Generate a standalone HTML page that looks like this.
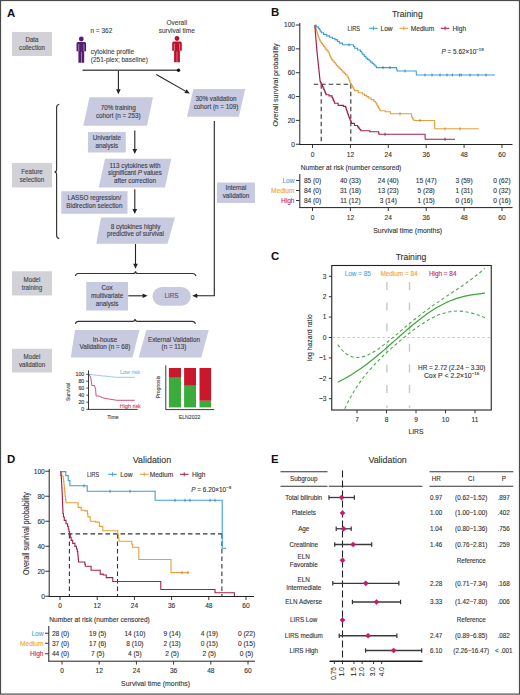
<!DOCTYPE html>
<html><head><meta charset="utf-8"><style>
html,body{margin:0;padding:0;background:#fff;}
svg{display:block;font-family:"Liberation Sans", sans-serif;}
</style></head><body>
<svg width="520" height="695" viewBox="0 0 520 695">
<rect x="0" y="0" width="520" height="695" fill="#fff"/>
<text x="7.00" y="16.70" font-size="11.4" fill="#111" font-weight="bold">A</text>
<rect x="12.00" y="32.00" width="40.00" height="24.00" fill="#d1d1d7"/>
<text x="32.00" y="42.40" font-size="6.76" fill="#444" stroke="#444" stroke-width="0.12" text-anchor="middle" textLength="13.1" lengthAdjust="spacingAndGlyphs">Data</text>
<text x="32.00" y="50.30" font-size="6.76" fill="#444" stroke="#444" stroke-width="0.12" text-anchor="middle" textLength="25.85" lengthAdjust="spacingAndGlyphs">collection</text>
<rect x="12.00" y="163.00" width="40.00" height="24.50" fill="#d1d1d7"/>
<text x="32.00" y="173.65" font-size="6.76" fill="#444" stroke="#444" stroke-width="0.12" text-anchor="middle" textLength="21.37" lengthAdjust="spacingAndGlyphs">Feature</text>
<text x="32.00" y="181.55" font-size="6.76" fill="#444" stroke="#444" stroke-width="0.12" text-anchor="middle" textLength="24.47" lengthAdjust="spacingAndGlyphs">selection</text>
<rect x="12.00" y="271.25" width="40.00" height="24.25" fill="#d1d1d7"/>
<text x="32.00" y="281.77" font-size="6.76" fill="#444" stroke="#444" stroke-width="0.12" text-anchor="middle" textLength="16.89" lengthAdjust="spacingAndGlyphs">Model</text>
<text x="32.00" y="289.68" font-size="6.76" fill="#444" stroke="#444" stroke-width="0.12" text-anchor="middle" textLength="20.34" lengthAdjust="spacingAndGlyphs">training</text>
<rect x="12.00" y="348.75" width="40.00" height="23.75" fill="#d1d1d7"/>
<text x="32.00" y="359.02" font-size="6.76" fill="#444" stroke="#444" stroke-width="0.12" text-anchor="middle" textLength="16.89" lengthAdjust="spacingAndGlyphs">Model</text>
<text x="32.00" y="366.93" font-size="6.76" fill="#444" stroke="#444" stroke-width="0.12" text-anchor="middle" textLength="26.2" lengthAdjust="spacingAndGlyphs">validation</text>
<circle cx="81.30" cy="39.00" r="2.4" fill="#52206f"/>
<path d="M76.50,43.40 Q76.50,41.90 78.00,41.90 L84.60,41.90 Q86.10,41.90 86.10,43.40 L86.10,51.20 L84.20,51.20 L84.20,62.70 L81.50,62.70 L81.50,51.90 L81.10,51.90 L81.10,62.70 L78.40,62.70 L78.40,51.20 L76.50,51.20 Z" fill="#52206f"/>
<line x1="78.70" y1="44.10" x2="78.70" y2="51.20" stroke="#fff" stroke-width="0.45"/>
<line x1="83.90" y1="44.10" x2="83.90" y2="51.20" stroke="#fff" stroke-width="0.45"/>
<circle cx="177.00" cy="38.50" r="2.4" fill="#bc102d"/>
<path d="M172.20,42.90 Q172.20,41.40 173.70,41.40 L180.30,41.40 Q181.80,41.40 181.80,42.90 L181.80,50.70 L179.90,50.70 L179.90,62.20 L177.20,62.20 L177.20,51.40 L176.80,51.40 L176.80,62.20 L174.10,62.20 L174.10,50.70 L172.20,50.70 Z" fill="#bc102d"/>
<line x1="174.40" y1="43.60" x2="174.40" y2="50.70" stroke="#fff" stroke-width="0.45"/>
<line x1="179.60" y1="43.60" x2="179.60" y2="50.70" stroke="#fff" stroke-width="0.45"/>
<text x="90.40" y="33.00" font-size="7.09" fill="#444" stroke="#444" stroke-width="0.12" textLength="21.87" lengthAdjust="spacingAndGlyphs">n = 362</text>
<text x="90.80" y="54.30" font-size="7.09" fill="#444" stroke="#444" stroke-width="0.12" textLength="43.36" lengthAdjust="spacingAndGlyphs">cytokine profile</text>
<text x="90.80" y="62.00" font-size="7.09" fill="#444" stroke="#444" stroke-width="0.12" textLength="57.09" lengthAdjust="spacingAndGlyphs">(251-plex; baseline)</text>
<text x="176.80" y="25.00" font-size="7.09" fill="#444" stroke="#444" stroke-width="0.12" text-anchor="middle" textLength="20.59" lengthAdjust="spacingAndGlyphs">Overall</text>
<text x="176.80" y="33.10" font-size="7.09" fill="#444" stroke="#444" stroke-width="0.12" text-anchor="middle" textLength="36.12" lengthAdjust="spacingAndGlyphs">survival time</text>
<line x1="82.50" y1="70.20" x2="178.50" y2="70.20" stroke="#555" stroke-width="1.5"/>
<circle cx="178.5" cy="70.2" r="1.7" fill="#111"/>
<line x1="118.40" y1="70.80" x2="118.40" y2="89.80" stroke="#222" stroke-width="1.1"/>
<polygon points="118.40,94.30 116.10,89.30 120.70,89.30" fill="#222" stroke="none" stroke-width="1"/>
<line x1="156.30" y1="74.50" x2="185.89" y2="91.37" stroke="#222" stroke-width="1.1"/>
<polygon points="189.80,93.60 184.32,93.12 186.60,89.13" fill="#222" stroke="none" stroke-width="1"/>
<polygon points="89.50,97.30 153.00,97.30 147.00,125.80 83.30,125.80" fill="#c8cae0" stroke="none" stroke-width="1"/>
<text x="118.20" y="110.40" font-size="6.87" fill="#3c3c46" stroke="#3c3c46" stroke-width="0.12" text-anchor="middle" textLength="35.02" lengthAdjust="spacingAndGlyphs">70% training</text>
<text x="118.20" y="118.00" font-size="6.87" fill="#3c3c46" stroke="#3c3c46" stroke-width="0.12" text-anchor="middle" textLength="44.65" lengthAdjust="spacingAndGlyphs">cohort (n = 253)</text>
<polygon points="193.40,88.90 245.20,88.90 238.90,116.80 187.00,116.80" fill="#c8cae0" stroke="none" stroke-width="1"/>
<text x="216.00" y="101.00" font-size="6.87" fill="#3c3c46" stroke="#3c3c46" stroke-width="0.12" text-anchor="middle" textLength="40.98" lengthAdjust="spacingAndGlyphs">30% validation</text>
<text x="216.00" y="108.60" font-size="6.87" fill="#3c3c46" stroke="#3c3c46" stroke-width="0.12" text-anchor="middle" textLength="44.65" lengthAdjust="spacingAndGlyphs">cohort (n = 109)</text>
<polygon points="105.00,158.75 171.25,158.75 165.00,187.50 98.75,187.50" fill="#c8cae0" stroke="none" stroke-width="1"/>
<text x="135.00" y="167.70" font-size="6.87" fill="#3c3c46" stroke="#3c3c46" stroke-width="0.12" text-anchor="middle" textLength="51.01" lengthAdjust="spacingAndGlyphs">113 cytokines with</text>
<text x="135.00" y="175.30" font-size="6.3" fill="#3c3c46" stroke="#3c3c46" stroke-width="0.12" text-anchor="middle">significant <tspan font-style="italic">P</tspan> values</text>
<text x="135.00" y="182.90" font-size="6.87" fill="#3c3c46" stroke="#3c3c46" stroke-width="0.12" text-anchor="middle" textLength="42.02" lengthAdjust="spacingAndGlyphs">after correction</text>
<polygon points="101.00,217.50 175.00,217.50 167.50,243.75 96.25,243.75" fill="#c8cae0" stroke="none" stroke-width="1"/>
<text x="135.50" y="228.50" font-size="6.87" fill="#3c3c46" stroke="#3c3c46" stroke-width="0.12" text-anchor="middle" textLength="49.73" lengthAdjust="spacingAndGlyphs">8 cytokines highly</text>
<text x="135.50" y="236.10" font-size="6.87" fill="#3c3c46" stroke="#3c3c46" stroke-width="0.12" text-anchor="middle" textLength="57.07" lengthAdjust="spacingAndGlyphs">predictive of survival</text>
<polygon points="75.00,330.00 139.50,330.00 132.50,357.50 70.75,357.50" fill="#c8cae0" stroke="none" stroke-width="1"/>
<text x="105.00" y="341.70" font-size="6.87" fill="#3c3c46" stroke="#3c3c46" stroke-width="0.12" text-anchor="middle" textLength="24.52" lengthAdjust="spacingAndGlyphs">In-house</text>
<text x="105.00" y="349.30" font-size="6.87" fill="#3c3c46" stroke="#3c3c46" stroke-width="0.12" text-anchor="middle" textLength="50.84" lengthAdjust="spacingAndGlyphs">Validation (n = 68)</text>
<polygon points="146.25,330.00 208.75,330.00 201.25,357.50 138.75,357.50" fill="#c8cae0" stroke="none" stroke-width="1"/>
<text x="174.00" y="341.70" font-size="6.87" fill="#3c3c46" stroke="#3c3c46" stroke-width="0.12" text-anchor="middle" textLength="52.07" lengthAdjust="spacingAndGlyphs">External Validation</text>
<text x="174.00" y="349.30" font-size="6.87" fill="#3c3c46" stroke="#3c3c46" stroke-width="0.12" text-anchor="middle" textLength="24.92" lengthAdjust="spacingAndGlyphs">(n = 113)</text>
<rect x="88.00" y="132.00" width="37.75" height="20.50" fill="#c8cae0"/>
<text x="106.88" y="140.40" font-size="6.87" fill="#3c3c46" stroke="#3c3c46" stroke-width="0.12" text-anchor="middle" textLength="28.36" lengthAdjust="spacingAndGlyphs">Univariate</text>
<text x="106.88" y="148.20" font-size="6.87" fill="#3c3c46" stroke="#3c3c46" stroke-width="0.12" text-anchor="middle" textLength="22.76" lengthAdjust="spacingAndGlyphs">analysis</text>
<rect x="61.25" y="191.25" width="66.25" height="22.50" fill="#c8cae0"/>
<text x="94.38" y="200.20" font-size="6.87" fill="#3c3c46" stroke="#3c3c46" stroke-width="0.12" text-anchor="middle" textLength="53.93" lengthAdjust="spacingAndGlyphs">LASSO regression/</text>
<text x="94.38" y="208.00" font-size="6.87" fill="#3c3c46" stroke="#3c3c46" stroke-width="0.12" text-anchor="middle" textLength="56.03" lengthAdjust="spacingAndGlyphs">Bidirection selection</text>
<rect x="217.00" y="182.50" width="38.00" height="20.50" fill="#c8cae0"/>
<text x="236.00" y="190.40" font-size="6.87" fill="#3c3c46" stroke="#3c3c46" stroke-width="0.12" text-anchor="middle" textLength="21.01" lengthAdjust="spacingAndGlyphs">Internal</text>
<text x="236.00" y="198.20" font-size="6.87" fill="#3c3c46" stroke="#3c3c46" stroke-width="0.12" text-anchor="middle" textLength="26.62" lengthAdjust="spacingAndGlyphs">validation</text>
<rect x="86.25" y="282.00" width="41.75" height="28.50" fill="#c8cae0"/>
<text x="107.12" y="290.20" font-size="6.87" fill="#3c3c46" stroke="#3c3c46" stroke-width="0.12" text-anchor="middle" textLength="11.2" lengthAdjust="spacingAndGlyphs">Cox</text>
<text x="107.12" y="298.00" font-size="6.87" fill="#3c3c46" stroke="#3c3c46" stroke-width="0.12" text-anchor="middle" textLength="32.21" lengthAdjust="spacingAndGlyphs">multivariate</text>
<text x="107.12" y="305.80" font-size="6.87" fill="#3c3c46" stroke="#3c3c46" stroke-width="0.12" text-anchor="middle" textLength="22.76" lengthAdjust="spacingAndGlyphs">analysis</text>
<rect x="152.5" y="287" width="38.25" height="18.75" rx="9.4" fill="#c8cae0"/>
<text x="171.50" y="298.30" font-size="6.87" fill="#4a5680" stroke="#4a5680" stroke-width="0.12" text-anchor="middle" textLength="14.01" lengthAdjust="spacingAndGlyphs">LIRS</text>
<line x1="134.80" y1="130.50" x2="134.80" y2="149.40" stroke="#222" stroke-width="1.1"/>
<polygon points="134.80,153.90 132.50,148.90 137.10,148.90" fill="#222" stroke="none" stroke-width="1"/>
<line x1="134.80" y1="189.30" x2="134.80" y2="209.40" stroke="#222" stroke-width="1.1"/>
<polygon points="134.80,213.90 132.50,208.90 137.10,208.90" fill="#222" stroke="none" stroke-width="1"/>
<line x1="135.50" y1="244.00" x2="135.50" y2="264.30" stroke="#222" stroke-width="1.1"/>
<polygon points="135.50,268.80 133.20,263.80 137.80,263.80" fill="#222" stroke="none" stroke-width="1"/>
<line x1="128.30" y1="295.80" x2="143.10" y2="295.80" stroke="#222" stroke-width="1.1"/>
<polygon points="147.60,295.80 142.60,298.10 142.60,293.50" fill="#222" stroke="none" stroke-width="1"/>
<path d="M214.3,121 L214.3,295.8 L197,295.8" stroke="#222" stroke-width="1.1" fill="none"/>
<line x1="198.00" y1="295.80" x2="196.70" y2="295.80" stroke="#222" stroke-width="1.1"/>
<polygon points="192.20,295.80 197.20,293.50 197.20,298.10" fill="#222" stroke="none" stroke-width="1"/>
<path d="M59.3,104.2 Q56.6,104.6 56.6,107.5 L56.6,169.6 Q56.6,172 54.4,172 Q56.6,172 56.6,174.4 L56.6,235.3 Q56.6,238.3 59.3,238.6" stroke="#333" stroke-width="1.15" fill="none"/>
<path d="M75.4,276 Q75.8,273.5 78.5,273.5 L133,273.5 Q135.5,273.5 135.5,271.2 Q135.5,273.5 138,273.5 L192.5,273.5 Q195.2,273.5 196,276" stroke="#333" stroke-width="1.15" fill="none"/>
<path d="M75.4,323.8 Q75.8,321.3 78.5,321.3 L132.5,321.3 Q135,321.3 135,319 Q135,321.3 137.5,321.3 L192,321.3 Q194.7,321.3 195.5,323.8" stroke="#333" stroke-width="1.15" fill="none"/>
<line x1="88.50" y1="370.40" x2="88.50" y2="409.80" stroke="#222" stroke-width="0.9"/>
<line x1="88.50" y1="409.40" x2="137.70" y2="409.40" stroke="#222" stroke-width="0.9"/>
<line x1="86.30" y1="374.30" x2="88.50" y2="374.30" stroke="#222" stroke-width="0.8"/>
<text x="84.30" y="376.20" font-size="5.78" fill="#333" stroke="#333" stroke-width="0.12" text-anchor="end" textLength="8.84" lengthAdjust="spacingAndGlyphs">100</text>
<line x1="86.30" y1="381.20" x2="88.50" y2="381.20" stroke="#222" stroke-width="0.8"/>
<text x="84.30" y="383.10" font-size="5.78" fill="#333" stroke="#333" stroke-width="0.12" text-anchor="end" textLength="5.9" lengthAdjust="spacingAndGlyphs">80</text>
<line x1="86.30" y1="388.10" x2="88.50" y2="388.10" stroke="#222" stroke-width="0.8"/>
<text x="84.30" y="390.00" font-size="5.78" fill="#333" stroke="#333" stroke-width="0.12" text-anchor="end" textLength="5.9" lengthAdjust="spacingAndGlyphs">60</text>
<line x1="86.30" y1="395.20" x2="88.50" y2="395.20" stroke="#222" stroke-width="0.8"/>
<text x="84.30" y="397.10" font-size="5.78" fill="#333" stroke="#333" stroke-width="0.12" text-anchor="end" textLength="5.9" lengthAdjust="spacingAndGlyphs">40</text>
<line x1="86.30" y1="402.20" x2="88.50" y2="402.20" stroke="#222" stroke-width="0.8"/>
<text x="84.30" y="404.10" font-size="5.78" fill="#333" stroke="#333" stroke-width="0.12" text-anchor="end" textLength="5.9" lengthAdjust="spacingAndGlyphs">20</text>
<line x1="86.30" y1="409.30" x2="88.50" y2="409.30" stroke="#222" stroke-width="0.8"/>
<text x="84.30" y="411.20" font-size="5.78" fill="#333" stroke="#333" stroke-width="0.12" text-anchor="end" textLength="2.95" lengthAdjust="spacingAndGlyphs">0</text>
<text x="0.00" y="0.00" font-size="5.45" fill="#444" stroke="#444" stroke-width="0.12" text-anchor="middle" textLength="17.78" lengthAdjust="spacingAndGlyphs" transform="translate(70,392) rotate(-90)">Survival</text>
<text x="113.00" y="419.20" font-size="5.78" fill="#444" stroke="#444" stroke-width="0.12" text-anchor="middle" textLength="11.58" lengthAdjust="spacingAndGlyphs">Time</text>
<path d="M89,374.3 C95,375 100,375.8 104,376 C110,376.6 114,377.2 116.7,377.3 L134.7,377.3" stroke="#86c6e2" stroke-width="0.9" fill="none"/>
<text x="130.00" y="374.00" font-size="5.89" fill="#7cc0de" stroke="#7cc0de" stroke-width="0.12" text-anchor="middle" textLength="19.8" lengthAdjust="spacingAndGlyphs">Low risk</text>
<path d="M89.2,374.3 L90.8,378 L91.9,385.5 L94.5,385.5 L95.6,389.2 L96.1,396 L98.8,396 L101,397 L104,398.2 L110,399.2 L116.7,400.3 L134.7,400.3" stroke="#c8406a" stroke-width="0.9" fill="none"/>
<text x="130.30" y="407.80" font-size="5.89" fill="#c8406a" stroke="#c8406a" stroke-width="0.12" text-anchor="middle" textLength="21.0" lengthAdjust="spacingAndGlyphs">High risk</text>
<line x1="165.80" y1="365.40" x2="165.80" y2="409.80" stroke="#222" stroke-width="0.9"/>
<line x1="165.80" y1="409.60" x2="214.20" y2="409.60" stroke="#222" stroke-width="0.9"/>
<rect x="168.90" y="368.00" width="12.10" height="9.80" fill="#c9182b"/>
<rect x="168.90" y="377.80" width="12.10" height="29.60" fill="#3bab3b"/>
<rect x="184.10" y="368.00" width="11.90" height="17.80" fill="#c9182b"/>
<rect x="184.10" y="385.80" width="11.90" height="21.60" fill="#3bab3b"/>
<rect x="199.50" y="368.00" width="11.60" height="32.80" fill="#c9182b"/>
<rect x="199.50" y="400.80" width="11.60" height="6.60" fill="#3bab3b"/>
<text x="0.00" y="0.00" font-size="5.56" fill="#444" stroke="#444" stroke-width="0.12" text-anchor="middle" textLength="22.68" lengthAdjust="spacingAndGlyphs" transform="translate(160,387) rotate(-90)">Prognosis</text>
<text x="189.60" y="419.20" font-size="5.67" fill="#444" stroke="#444" stroke-width="0.12" text-anchor="middle" textLength="21.68" lengthAdjust="spacingAndGlyphs">ELN2022</text>
<text x="271.00" y="15.80" font-size="11.4" fill="#111" font-weight="bold">B</text>
<text x="407.30" y="16.60" font-size="9.37" fill="#333" stroke="#333" stroke-width="0.12" text-anchor="middle" textLength="30.75" lengthAdjust="spacingAndGlyphs">Training</text>
<line x1="299.80" y1="23.00" x2="299.80" y2="145.00" stroke="#222" stroke-width="1"/>
<line x1="299.30" y1="144.50" x2="512.50" y2="144.50" stroke="#222" stroke-width="1"/>
<line x1="295.80" y1="25.00" x2="299.80" y2="25.00" stroke="#222" stroke-width="0.9"/>
<text x="295.00" y="27.30" font-size="7.19" fill="#333" stroke="#333" stroke-width="0.12" text-anchor="end" textLength="11.01" lengthAdjust="spacingAndGlyphs">100</text>
<line x1="295.80" y1="48.85" x2="299.80" y2="48.85" stroke="#222" stroke-width="0.9"/>
<text x="295.00" y="51.15" font-size="7.19" fill="#333" stroke="#333" stroke-width="0.12" text-anchor="end" textLength="7.34" lengthAdjust="spacingAndGlyphs">80</text>
<line x1="295.80" y1="72.70" x2="299.80" y2="72.70" stroke="#222" stroke-width="0.9"/>
<text x="295.00" y="75.00" font-size="7.19" fill="#333" stroke="#333" stroke-width="0.12" text-anchor="end" textLength="7.34" lengthAdjust="spacingAndGlyphs">60</text>
<line x1="295.80" y1="96.55" x2="299.80" y2="96.55" stroke="#222" stroke-width="0.9"/>
<text x="295.00" y="98.85" font-size="7.19" fill="#333" stroke="#333" stroke-width="0.12" text-anchor="end" textLength="7.34" lengthAdjust="spacingAndGlyphs">40</text>
<line x1="295.80" y1="120.40" x2="299.80" y2="120.40" stroke="#222" stroke-width="0.9"/>
<text x="295.00" y="122.70" font-size="7.19" fill="#333" stroke="#333" stroke-width="0.12" text-anchor="end" textLength="7.34" lengthAdjust="spacingAndGlyphs">20</text>
<line x1="295.80" y1="144.25" x2="299.80" y2="144.25" stroke="#222" stroke-width="0.9"/>
<text x="295.00" y="146.55" font-size="7.19" fill="#333" stroke="#333" stroke-width="0.12" text-anchor="end" textLength="3.67" lengthAdjust="spacingAndGlyphs">0</text>
<line x1="312.50" y1="144.50" x2="312.50" y2="148.00" stroke="#222" stroke-width="0.9"/>
<line x1="350.40" y1="144.50" x2="350.40" y2="148.00" stroke="#222" stroke-width="0.9"/>
<line x1="388.29" y1="144.50" x2="388.29" y2="148.00" stroke="#222" stroke-width="0.9"/>
<line x1="426.19" y1="144.50" x2="426.19" y2="148.00" stroke="#222" stroke-width="0.9"/>
<line x1="464.08" y1="144.50" x2="464.08" y2="148.00" stroke="#222" stroke-width="0.9"/>
<line x1="501.98" y1="144.50" x2="501.98" y2="148.00" stroke="#222" stroke-width="0.9"/>
<text x="312.50" y="156.60" font-size="7.19" fill="#333" stroke="#333" stroke-width="0.12" text-anchor="middle" textLength="3.67" lengthAdjust="spacingAndGlyphs">0</text>
<text x="350.40" y="156.60" font-size="7.19" fill="#333" stroke="#333" stroke-width="0.12" text-anchor="middle" textLength="7.34" lengthAdjust="spacingAndGlyphs">12</text>
<text x="388.29" y="156.60" font-size="7.19" fill="#333" stroke="#333" stroke-width="0.12" text-anchor="middle" textLength="7.34" lengthAdjust="spacingAndGlyphs">24</text>
<text x="426.19" y="156.60" font-size="7.19" fill="#333" stroke="#333" stroke-width="0.12" text-anchor="middle" textLength="7.34" lengthAdjust="spacingAndGlyphs">36</text>
<text x="464.08" y="156.60" font-size="7.19" fill="#333" stroke="#333" stroke-width="0.12" text-anchor="middle" textLength="7.34" lengthAdjust="spacingAndGlyphs">48</text>
<text x="501.98" y="156.60" font-size="7.19" fill="#333" stroke="#333" stroke-width="0.12" text-anchor="middle" textLength="7.34" lengthAdjust="spacingAndGlyphs">60</text>
<text x="0.00" y="0.00" font-size="8.07" fill="#333" stroke="#333" stroke-width="0.12" text-anchor="middle" textLength="83" lengthAdjust="spacingAndGlyphs" transform="translate(277.6,85) rotate(-90)">Overall survival probability</text>
<line x1="313.70" y1="84.20" x2="350.80" y2="84.20" stroke="#333" stroke-width="1.1" stroke-dasharray="4.5,3"/>
<line x1="321.20" y1="84.20" x2="321.20" y2="144.20" stroke="#333" stroke-width="1.1" stroke-dasharray="4.5,3"/>
<line x1="350.80" y1="84.20" x2="350.80" y2="144.20" stroke="#333" stroke-width="1.1" stroke-dasharray="4.5,3"/>
<path d="M314.80,25.30 H316.30 V26.90 H317.80 H318.30 V28.35 H319.30 V29.80 H320.30 V31.25 H321.30 V32.70 H321.80 H323.55 V34.40 H325.30 H326.75 V35.85 H329.65 V37.30 H331.10 H332.40 V38.45 H335.00 V39.60 H336.30 H337.30 V41.35 H339.30 V43.10 H340.30 H342.60 V44.80 H344.90 L353.00,44.80 H353.57 V46.55 H354.73 V48.30 H355.30 H357.60 V50.00 H359.90 H360.48 V51.53 H361.65 V53.07 H362.82 V54.60 H363.40 H364.25 V56.35 H365.95 V58.10 H366.80 H367.57 V59.42 H369.12 V60.75 H370.68 V62.08 H372.23 V63.40 H373.00 H373.70 V64.80 H375.10 V66.20 H376.50 V67.60 H377.20 L396.30,67.60 H396.55 V69.30 H397.05 V71.00 H397.30 L416.20,71.00 L416.40,75.00 L495.00,75.00" stroke="#3c9fd8" stroke-width="1.1" fill="none" stroke-linejoin="miter"/>
<path d="M314.80,25.30 H315.04 V26.78 H315.52 V28.26 H316.00 V29.74 H316.48 V31.22 H316.96 V32.70 H317.20 H317.43 V34.08 H317.89 V35.46 H318.35 V36.84 H318.81 V38.22 H319.27 V39.60 H319.50 H319.94 V40.90 H320.81 V42.20 H321.69 V43.50 H322.56 V44.80 H323.00 H323.58 V46.33 H324.75 V47.87 H325.92 V49.40 H326.50 H327.07 V50.85 H328.23 V52.30 H328.80 H329.09 V53.75 H329.66 V55.20 H330.24 V56.65 H330.81 V58.10 H331.10 H331.69 V59.58 H332.87 V61.06 H334.05 V62.54 H335.23 V64.02 H336.41 V65.50 H337.00 H337.66 V66.83 H338.99 V68.15 H340.31 V69.47 H341.64 V70.80 H342.30 H342.96 V72.10 H344.29 V73.40 H345.61 V74.70 H346.94 V76.00 H347.60 H347.92 V77.50 H348.56 V79.00 H349.20 V80.50 H349.84 V82.00 H350.48 V83.50 H350.80 H351.22 V84.92 H352.06 V86.34 H352.90 V87.76 H353.74 V89.18 H354.58 V90.60 H355.00 H358.15 V92.70 H361.30 H362.36 V94.03 H364.49 V95.35 H366.61 V96.67 H368.74 V98.00 H369.80 H371.12 V99.60 H373.78 V101.20 H375.10 H375.48 V102.56 H376.24 V103.91 H376.99 V105.27 H377.75 V106.63 H378.51 V107.99 H379.26 V109.34 H380.02 V110.70 H380.40 H385.15 V111.70 H389.90 H390.45 V113.80 H391.00 L411.20,113.80 H411.33 V115.03 H411.60 V116.27 H411.87 V117.50 H412.00 H412.62 V119.00 H413.88 V120.50 H414.50 L434.50,120.50 L434.70,128.75 L478.80,128.75" stroke="#e4a03c" stroke-width="1.1" fill="none" stroke-linejoin="miter"/>
<path d="M314.80,25.30 H314.86 V26.69 H314.97 V28.08 H315.09 V29.47 H315.21 V30.86 H315.32 V32.25 H315.44 V33.64 H315.55 V35.03 H315.67 V36.42 H315.78 V37.81 H315.90 V39.19 H316.02 V40.58 H316.13 V41.97 H316.25 V43.36 H316.36 V44.75 H316.48 V46.14 H316.59 V47.53 H316.71 V48.92 H316.83 V50.31 H316.94 V51.70 H317.00 H317.07 V53.11 H317.22 V54.52 H317.37 V55.93 H317.52 V57.34 H317.66 V58.75 H317.81 V60.16 H317.96 V61.57 H318.11 V62.98 H318.25 V64.39 H318.40 V65.80 H318.55 V67.20 H318.70 V68.61 H318.85 V70.02 H318.99 V71.43 H319.14 V72.84 H319.29 V74.25 H319.44 V75.66 H319.58 V77.07 H319.73 V78.48 H319.88 V79.89 H320.03 V81.30 H320.10 H320.45 V82.63 H321.15 V83.97 H321.85 V85.30 H322.20 H322.50 V86.66 H323.10 V88.01 H323.70 V89.37 H324.30 V90.73 H324.90 V92.09 H325.50 V93.44 H326.10 V94.80 H326.40 H329.05 V95.90 H331.70 H332.02 V97.38 H332.66 V98.86 H333.30 V100.34 H333.94 V101.82 H334.58 V103.30 H334.90 H338.10 V105.40 H341.30 H343.40 V106.40 H345.50 H345.73 V107.77 H346.19 V109.14 H346.64 V110.51 H347.10 V111.89 H347.56 V113.26 H348.01 V114.63 H348.47 V116.00 H348.70 H349.01 V117.48 H349.63 V118.96 H350.25 V120.44 H350.87 V121.92 H351.49 V123.40 H351.80 H354.45 V125.50 H357.10 H357.62 V126.83 H358.68 V128.15 H359.73 V129.48 H360.78 V130.80 H361.30 H369.80 V131.80 H378.30 H378.55 V133.03 H379.05 V134.25 H379.30 L425.00,134.25 L425.20,139.25 L455.00,139.25" stroke="#a3204f" stroke-width="1.1" fill="none" stroke-linejoin="miter"/>
<line x1="425.00" y1="73.50" x2="425.00" y2="76.50" stroke="#2a6f9e" stroke-width="0.8"/>
<line x1="432.00" y1="73.50" x2="432.00" y2="76.50" stroke="#2a6f9e" stroke-width="0.8"/>
<line x1="440.00" y1="73.50" x2="440.00" y2="76.50" stroke="#2a6f9e" stroke-width="0.8"/>
<line x1="447.00" y1="73.50" x2="447.00" y2="76.50" stroke="#2a6f9e" stroke-width="0.8"/>
<line x1="452.30" y1="73.50" x2="452.30" y2="76.50" stroke="#2a6f9e" stroke-width="0.8"/>
<line x1="459.40" y1="73.50" x2="459.40" y2="76.50" stroke="#2a6f9e" stroke-width="0.8"/>
<line x1="461.20" y1="73.50" x2="461.20" y2="76.50" stroke="#2a6f9e" stroke-width="0.8"/>
<line x1="470.00" y1="73.50" x2="470.00" y2="76.50" stroke="#2a6f9e" stroke-width="0.8"/>
<line x1="478.00" y1="73.50" x2="478.00" y2="76.50" stroke="#2a6f9e" stroke-width="0.8"/>
<line x1="486.00" y1="73.50" x2="486.00" y2="76.50" stroke="#2a6f9e" stroke-width="0.8"/>
<line x1="405.00" y1="69.50" x2="405.00" y2="72.50" stroke="#2a6f9e" stroke-width="0.8"/>
<line x1="349.00" y1="43.30" x2="349.00" y2="46.30" stroke="#2a6f9e" stroke-width="0.8"/>
<line x1="383.00" y1="66.10" x2="383.00" y2="69.10" stroke="#2a6f9e" stroke-width="0.8"/>
<line x1="390.00" y1="66.10" x2="390.00" y2="69.10" stroke="#2a6f9e" stroke-width="0.8"/>
<line x1="400.00" y1="112.30" x2="400.00" y2="115.30" stroke="#b07a2a" stroke-width="0.8"/>
<line x1="420.00" y1="119.00" x2="420.00" y2="122.00" stroke="#b07a2a" stroke-width="0.8"/>
<line x1="445.00" y1="127.25" x2="445.00" y2="130.25" stroke="#b07a2a" stroke-width="0.8"/>
<line x1="460.00" y1="127.25" x2="460.00" y2="130.25" stroke="#b07a2a" stroke-width="0.8"/>
<line x1="385.00" y1="132.75" x2="385.00" y2="135.75" stroke="#701535" stroke-width="0.8"/>
<line x1="445.00" y1="137.75" x2="445.00" y2="140.75" stroke="#701535" stroke-width="0.8"/>
<text x="347.50" y="30.60" font-size="7.19" fill="#333" stroke="#333" stroke-width="0.12" textLength="12.5" lengthAdjust="spacingAndGlyphs">LIRS</text>
<line x1="369.20" y1="28.30" x2="377.70" y2="28.30" stroke="#3c9fd8" stroke-width="1.1"/>
<line x1="373.45" y1="26.30" x2="373.45" y2="30.30" stroke="#3c9fd8" stroke-width="0.9"/>
<text x="380.50" y="30.60" font-size="7.19" fill="#333" stroke="#333" stroke-width="0.12" textLength="12.11" lengthAdjust="spacingAndGlyphs">Low</text>
<line x1="399.50" y1="28.30" x2="408.00" y2="28.30" stroke="#e4a03c" stroke-width="1.1"/>
<line x1="403.75" y1="26.30" x2="403.75" y2="30.30" stroke="#e4a03c" stroke-width="0.9"/>
<text x="410.75" y="30.60" font-size="7.19" fill="#333" stroke="#333" stroke-width="0.12" textLength="23.47" lengthAdjust="spacingAndGlyphs">Medium</text>
<line x1="440.80" y1="28.30" x2="449.30" y2="28.30" stroke="#a3204f" stroke-width="1.1"/>
<line x1="445.05" y1="26.30" x2="445.05" y2="30.30" stroke="#a3204f" stroke-width="0.9"/>
<text x="452.50" y="30.60" font-size="7.19" fill="#333" stroke="#333" stroke-width="0.12" textLength="13.57" lengthAdjust="spacingAndGlyphs">High</text>
<text x="441.50" y="54.20" font-size="6.4" fill="#333" stroke="#333" stroke-width="0.12"><tspan font-style="italic">P</tspan> = 5.62×10<tspan font-size="4.3" dy="-3">−19</tspan></text>
<text x="300.80" y="169.80" font-size="7.19" fill="#333" stroke="#333" stroke-width="0.12" textLength="100.51" lengthAdjust="spacingAndGlyphs">Number at risk (number censored)</text>
<line x1="299.80" y1="174.00" x2="299.80" y2="207.80" stroke="#222" stroke-width="1"/>
<line x1="299.30" y1="207.60" x2="512.50" y2="207.60" stroke="#222" stroke-width="1"/>
<line x1="296.00" y1="180.50" x2="299.80" y2="180.50" stroke="#222" stroke-width="0.9"/>
<text x="294.50" y="182.80" font-size="7.19" fill="#4aaad6" stroke="#4aaad6" stroke-width="0.12" text-anchor="end" textLength="12.11" lengthAdjust="spacingAndGlyphs">Low</text>
<text x="312.50" y="182.80" font-size="7.19" fill="#333" stroke="#333" stroke-width="0.12" text-anchor="middle" textLength="17.24" lengthAdjust="spacingAndGlyphs">85 (0)</text>
<text x="350.40" y="182.80" font-size="7.19" fill="#333" stroke="#333" stroke-width="0.12" text-anchor="middle" textLength="20.91" lengthAdjust="spacingAndGlyphs">40 (33)</text>
<text x="388.29" y="182.80" font-size="7.19" fill="#333" stroke="#333" stroke-width="0.12" text-anchor="middle" textLength="20.91" lengthAdjust="spacingAndGlyphs">24 (40)</text>
<text x="426.19" y="182.80" font-size="7.19" fill="#333" stroke="#333" stroke-width="0.12" text-anchor="middle" textLength="20.91" lengthAdjust="spacingAndGlyphs">15 (47)</text>
<text x="464.08" y="182.80" font-size="7.19" fill="#333" stroke="#333" stroke-width="0.12" text-anchor="middle" textLength="17.24" lengthAdjust="spacingAndGlyphs">3 (59)</text>
<text x="501.98" y="182.80" font-size="7.19" fill="#333" stroke="#333" stroke-width="0.12" text-anchor="middle" textLength="17.24" lengthAdjust="spacingAndGlyphs">0 (62)</text>
<line x1="296.00" y1="190.50" x2="299.80" y2="190.50" stroke="#222" stroke-width="0.9"/>
<text x="294.50" y="192.80" font-size="7.19" fill="#f2a23a" stroke="#f2a23a" stroke-width="0.12" text-anchor="end" textLength="23.47" lengthAdjust="spacingAndGlyphs">Medium</text>
<text x="312.50" y="192.80" font-size="7.19" fill="#333" stroke="#333" stroke-width="0.12" text-anchor="middle" textLength="17.24" lengthAdjust="spacingAndGlyphs">84 (0)</text>
<text x="350.40" y="192.80" font-size="7.19" fill="#333" stroke="#333" stroke-width="0.12" text-anchor="middle" textLength="20.91" lengthAdjust="spacingAndGlyphs">31 (18)</text>
<text x="388.29" y="192.80" font-size="7.19" fill="#333" stroke="#333" stroke-width="0.12" text-anchor="middle" textLength="20.91" lengthAdjust="spacingAndGlyphs">13 (23)</text>
<text x="426.19" y="192.80" font-size="7.19" fill="#333" stroke="#333" stroke-width="0.12" text-anchor="middle" textLength="17.24" lengthAdjust="spacingAndGlyphs">5 (28)</text>
<text x="464.08" y="192.80" font-size="7.19" fill="#333" stroke="#333" stroke-width="0.12" text-anchor="middle" textLength="17.24" lengthAdjust="spacingAndGlyphs">1 (31)</text>
<text x="501.98" y="192.80" font-size="7.19" fill="#333" stroke="#333" stroke-width="0.12" text-anchor="middle" textLength="17.24" lengthAdjust="spacingAndGlyphs">0 (32)</text>
<line x1="296.00" y1="200.50" x2="299.80" y2="200.50" stroke="#222" stroke-width="0.9"/>
<text x="294.50" y="202.80" font-size="7.19" fill="#c0285a" stroke="#c0285a" stroke-width="0.12" text-anchor="end" textLength="13.57" lengthAdjust="spacingAndGlyphs">High</text>
<text x="312.50" y="202.80" font-size="7.19" fill="#333" stroke="#333" stroke-width="0.12" text-anchor="middle" textLength="17.24" lengthAdjust="spacingAndGlyphs">84 (0)</text>
<text x="350.40" y="202.80" font-size="7.19" fill="#333" stroke="#333" stroke-width="0.12" text-anchor="middle" textLength="20.42" lengthAdjust="spacingAndGlyphs">11 (12)</text>
<text x="388.29" y="202.80" font-size="7.19" fill="#333" stroke="#333" stroke-width="0.12" text-anchor="middle" textLength="17.24" lengthAdjust="spacingAndGlyphs">3 (14)</text>
<text x="426.19" y="202.80" font-size="7.19" fill="#333" stroke="#333" stroke-width="0.12" text-anchor="middle" textLength="17.24" lengthAdjust="spacingAndGlyphs">1 (15)</text>
<text x="464.08" y="202.80" font-size="7.19" fill="#333" stroke="#333" stroke-width="0.12" text-anchor="middle" textLength="17.24" lengthAdjust="spacingAndGlyphs">0 (16)</text>
<text x="501.98" y="202.80" font-size="7.19" fill="#333" stroke="#333" stroke-width="0.12" text-anchor="middle" textLength="17.24" lengthAdjust="spacingAndGlyphs">0 (16)</text>
<line x1="312.50" y1="207.60" x2="312.50" y2="211.00" stroke="#222" stroke-width="0.9"/>
<text x="312.50" y="219.80" font-size="7.19" fill="#333" stroke="#333" stroke-width="0.12" text-anchor="middle" textLength="3.67" lengthAdjust="spacingAndGlyphs">0</text>
<line x1="350.40" y1="207.60" x2="350.40" y2="211.00" stroke="#222" stroke-width="0.9"/>
<text x="350.40" y="219.80" font-size="7.19" fill="#333" stroke="#333" stroke-width="0.12" text-anchor="middle" textLength="7.34" lengthAdjust="spacingAndGlyphs">12</text>
<line x1="388.29" y1="207.60" x2="388.29" y2="211.00" stroke="#222" stroke-width="0.9"/>
<text x="388.29" y="219.80" font-size="7.19" fill="#333" stroke="#333" stroke-width="0.12" text-anchor="middle" textLength="7.34" lengthAdjust="spacingAndGlyphs">24</text>
<line x1="426.19" y1="207.60" x2="426.19" y2="211.00" stroke="#222" stroke-width="0.9"/>
<text x="426.19" y="219.80" font-size="7.19" fill="#333" stroke="#333" stroke-width="0.12" text-anchor="middle" textLength="7.34" lengthAdjust="spacingAndGlyphs">36</text>
<line x1="464.08" y1="207.60" x2="464.08" y2="211.00" stroke="#222" stroke-width="0.9"/>
<text x="464.08" y="219.80" font-size="7.19" fill="#333" stroke="#333" stroke-width="0.12" text-anchor="middle" textLength="7.34" lengthAdjust="spacingAndGlyphs">48</text>
<line x1="501.98" y1="207.60" x2="501.98" y2="211.00" stroke="#222" stroke-width="0.9"/>
<text x="501.98" y="219.80" font-size="7.19" fill="#333" stroke="#333" stroke-width="0.12" text-anchor="middle" textLength="7.34" lengthAdjust="spacingAndGlyphs">60</text>
<text x="407.70" y="232.60" font-size="8.07" fill="#333" stroke="#333" stroke-width="0.12" text-anchor="middle" textLength="69" lengthAdjust="spacingAndGlyphs">Survival time (months)</text>
<text x="271.00" y="260.00" font-size="11.4" fill="#111" font-weight="bold">C</text>
<text x="411.00" y="260.20" font-size="9.37" fill="#333" stroke="#333" stroke-width="0.12" text-anchor="middle" textLength="30.75" lengthAdjust="spacingAndGlyphs">Training</text>
<rect x="331.75" y="265.5" width="159.5" height="144.5" fill="none" stroke="#222" stroke-width="1.1"/>
<line x1="328.80" y1="276.30" x2="331.75" y2="276.30" stroke="#222" stroke-width="0.9"/>
<text x="326.50" y="278.60" font-size="7.19" fill="#333" stroke="#333" stroke-width="0.12" text-anchor="end" textLength="3.67" lengthAdjust="spacingAndGlyphs">3</text>
<line x1="328.80" y1="296.70" x2="331.75" y2="296.70" stroke="#222" stroke-width="0.9"/>
<text x="326.50" y="299.00" font-size="7.19" fill="#333" stroke="#333" stroke-width="0.12" text-anchor="end" textLength="3.67" lengthAdjust="spacingAndGlyphs">2</text>
<line x1="328.80" y1="317.10" x2="331.75" y2="317.10" stroke="#222" stroke-width="0.9"/>
<text x="326.50" y="319.40" font-size="7.19" fill="#333" stroke="#333" stroke-width="0.12" text-anchor="end" textLength="3.67" lengthAdjust="spacingAndGlyphs">1</text>
<line x1="328.80" y1="337.50" x2="331.75" y2="337.50" stroke="#222" stroke-width="0.9"/>
<text x="326.50" y="339.80" font-size="7.19" fill="#333" stroke="#333" stroke-width="0.12" text-anchor="end" textLength="3.67" lengthAdjust="spacingAndGlyphs">0</text>
<line x1="328.80" y1="357.90" x2="331.75" y2="357.90" stroke="#222" stroke-width="0.9"/>
<text x="326.50" y="360.20" font-size="7.19" fill="#333" stroke="#333" stroke-width="0.12" text-anchor="end" textLength="7.53" lengthAdjust="spacingAndGlyphs">−1</text>
<line x1="328.80" y1="378.30" x2="331.75" y2="378.30" stroke="#222" stroke-width="0.9"/>
<text x="326.50" y="380.60" font-size="7.19" fill="#333" stroke="#333" stroke-width="0.12" text-anchor="end" textLength="7.53" lengthAdjust="spacingAndGlyphs">−2</text>
<line x1="328.80" y1="398.70" x2="331.75" y2="398.70" stroke="#222" stroke-width="0.9"/>
<text x="326.50" y="401.00" font-size="7.19" fill="#333" stroke="#333" stroke-width="0.12" text-anchor="end" textLength="7.53" lengthAdjust="spacingAndGlyphs">−3</text>
<line x1="357.00" y1="410.00" x2="357.00" y2="413.30" stroke="#222" stroke-width="0.9"/>
<text x="357.00" y="421.80" font-size="7.19" fill="#333" stroke="#333" stroke-width="0.12" text-anchor="middle" textLength="3.67" lengthAdjust="spacingAndGlyphs">7</text>
<line x1="386.50" y1="410.00" x2="386.50" y2="413.30" stroke="#222" stroke-width="0.9"/>
<text x="386.50" y="421.80" font-size="7.19" fill="#333" stroke="#333" stroke-width="0.12" text-anchor="middle" textLength="3.67" lengthAdjust="spacingAndGlyphs">8</text>
<line x1="416.00" y1="410.00" x2="416.00" y2="413.30" stroke="#222" stroke-width="0.9"/>
<text x="416.00" y="421.80" font-size="7.19" fill="#333" stroke="#333" stroke-width="0.12" text-anchor="middle" textLength="3.67" lengthAdjust="spacingAndGlyphs">9</text>
<line x1="445.50" y1="410.00" x2="445.50" y2="413.30" stroke="#222" stroke-width="0.9"/>
<text x="445.50" y="421.80" font-size="7.19" fill="#333" stroke="#333" stroke-width="0.12" text-anchor="middle" textLength="7.34" lengthAdjust="spacingAndGlyphs">10</text>
<line x1="475.00" y1="410.00" x2="475.00" y2="413.30" stroke="#222" stroke-width="0.9"/>
<text x="475.00" y="421.80" font-size="7.19" fill="#333" stroke="#333" stroke-width="0.12" text-anchor="middle" textLength="6.85" lengthAdjust="spacingAndGlyphs">11</text>
<text x="416.00" y="434.30" font-size="7.41" fill="#333" stroke="#333" stroke-width="0.12" text-anchor="middle" textLength="15.12" lengthAdjust="spacingAndGlyphs">LIRS</text>
<text x="0.00" y="0.00" font-size="7.85" fill="#333" stroke="#333" stroke-width="0.12" text-anchor="middle" textLength="47" lengthAdjust="spacingAndGlyphs" transform="translate(312.2,337.7) rotate(-90)">log hazard ratio</text>
<line x1="332.50" y1="337.50" x2="490.50" y2="337.50" stroke="#bbb" stroke-width="0.9" stroke-dasharray="2.2,2.8"/>
<line x1="386.90" y1="282.00" x2="386.90" y2="408.00" stroke="#c8c8c8" stroke-width="1.4" stroke-dasharray="8,12.6"/>
<line x1="409.50" y1="282.00" x2="409.50" y2="408.00" stroke="#c8c8c8" stroke-width="1.4" stroke-dasharray="8,12.6"/>
<text x="357.70" y="276.00" font-size="6.98" fill="#4aaad6" stroke="#4aaad6" stroke-width="0.12" text-anchor="middle" textLength="26.15" lengthAdjust="spacingAndGlyphs">Low = 85</text>
<text x="399.00" y="276.00" font-size="6.98" fill="#f2a23a" stroke="#f2a23a" stroke-width="0.12" text-anchor="middle" textLength="37.18" lengthAdjust="spacingAndGlyphs">Medium = 84</text>
<text x="442.70" y="276.00" font-size="6.98" fill="#c0285a" stroke="#c0285a" stroke-width="0.12" text-anchor="middle" textLength="27.58" lengthAdjust="spacingAndGlyphs">High = 84</text>
<path d="M337.80,382.29 C338.43,381.96 340.32,381.00 341.57,380.33 C342.83,379.66 344.09,378.97 345.35,378.26 C346.61,377.55 347.86,376.82 349.12,376.07 C350.38,375.32 351.64,374.55 352.90,373.76 C354.16,372.96 355.41,372.15 356.67,371.31 C357.93,370.47 359.19,369.61 360.45,368.73 C361.70,367.85 362.96,366.95 364.22,366.02 C365.48,365.10 366.74,364.15 367.99,363.19 C369.25,362.23 370.51,361.24 371.77,360.24 C373.03,359.25 374.29,358.23 375.54,357.19 C376.80,356.16 378.06,355.11 379.32,354.05 C380.58,352.99 381.83,351.92 383.09,350.84 C384.35,349.75 385.61,348.66 386.87,347.56 C388.12,346.46 389.38,345.35 390.64,344.24 C391.90,343.13 393.16,342.01 394.42,340.90 C395.67,339.78 396.93,338.66 398.19,337.55 C399.45,336.43 400.71,335.32 401.96,334.21 C403.22,333.11 404.48,332.01 405.74,330.92 C407.00,329.83 408.25,328.74 409.51,327.68 C410.77,326.61 412.03,325.55 413.29,324.51 C414.55,323.47 415.80,322.44 417.06,321.44 C418.32,320.43 419.58,319.44 420.84,318.48 C422.09,317.51 423.35,316.57 424.61,315.65 C425.87,314.73 427.13,313.83 428.38,312.96 C429.64,312.10 430.90,311.25 432.16,310.44 C433.42,309.62 434.68,308.84 435.93,308.08 C437.19,307.33 438.45,306.60 439.71,305.91 C440.97,305.21 442.22,304.55 443.48,303.92 C444.74,303.29 446.00,302.69 447.26,302.12 C448.51,301.56 449.77,301.02 451.03,300.52 C452.29,300.02 453.55,299.55 454.81,299.11 C456.06,298.67 457.32,298.26 458.58,297.88 C459.84,297.50 461.10,297.15 462.35,296.83 C463.61,296.51 464.87,296.22 466.13,295.94 C467.39,295.67 468.64,295.43 469.90,295.20 C471.16,294.97 472.42,294.77 473.68,294.58 C474.94,294.38 476.19,294.21 477.45,294.05 C478.71,293.88 479.97,293.73 481.23,293.58 C482.48,293.42 484.37,293.20 485.00,293.13" stroke="#3ca63c" stroke-width="1.2" fill="none"/>
<path d="M337.80,344.61 C338.43,345.42 340.32,348.09 341.57,349.50 C342.83,350.91 344.09,352.08 345.35,353.08 C346.61,354.09 347.86,354.87 349.12,355.51 C350.38,356.16 351.64,356.61 352.90,356.93 C354.16,357.26 355.41,357.42 356.67,357.47 C357.93,357.52 359.19,357.43 360.45,357.24 C361.70,357.06 362.96,356.75 364.22,356.37 C365.48,355.98 366.74,355.49 367.99,354.94 C369.25,354.39 370.51,353.75 371.77,353.06 C373.03,352.36 374.29,351.60 375.54,350.80 C376.80,349.99 378.06,349.13 379.32,348.24 C380.58,347.35 381.83,346.41 383.09,345.45 C384.35,344.49 385.61,343.49 386.87,342.48 C388.12,341.48 389.38,340.44 390.64,339.40 C391.90,338.36 393.16,337.30 394.42,336.24 C395.67,335.18 396.93,334.11 398.19,333.04 C399.45,331.97 400.71,330.90 401.96,329.84 C403.22,328.77 404.48,327.71 405.74,326.65 C407.00,325.60 408.25,324.55 409.51,323.51 C410.77,322.48 412.03,321.45 413.29,320.43 C414.55,319.42 415.80,318.41 417.06,317.42 C418.32,316.43 419.58,315.45 420.84,314.48 C422.09,313.52 423.35,312.56 424.61,311.62 C425.87,310.68 427.13,309.76 428.38,308.84 C429.64,307.93 430.90,307.02 432.16,306.13 C433.42,305.24 434.68,304.36 435.93,303.49 C437.19,302.61 438.45,301.75 439.71,300.90 C440.97,300.04 442.22,299.19 443.48,298.35 C444.74,297.51 446.00,296.67 447.26,295.83 C448.51,294.99 449.77,294.16 451.03,293.32 C452.29,292.48 453.55,291.65 454.81,290.81 C456.06,289.97 457.32,289.12 458.58,288.27 C459.84,287.42 461.10,286.56 462.35,285.69 C463.61,284.82 464.87,283.94 466.13,283.05 C467.39,282.16 468.64,281.25 469.90,280.33 C471.16,279.41 472.42,278.47 473.68,277.51 C474.94,276.55 476.19,275.58 477.45,274.58 C478.71,273.58 479.97,272.56 481.23,271.52 C482.48,270.47 484.37,268.84 485.00,268.31" stroke="#4aaa4a" stroke-width="1.1" fill="none" stroke-dasharray="3.2,2.6"/>
<path d="M344.80,408.68 C345.40,407.45 347.20,403.61 348.39,401.27 C349.59,398.94 350.79,396.75 351.99,394.65 C353.19,392.56 354.39,390.59 355.58,388.70 C356.78,386.81 357.98,385.03 359.18,383.31 C360.38,381.59 361.58,379.96 362.77,378.38 C363.97,376.80 365.17,375.30 366.37,373.84 C367.57,372.38 368.77,370.98 369.96,369.62 C371.16,368.25 372.36,366.94 373.56,365.65 C374.76,364.36 375.96,363.12 377.15,361.89 C378.35,360.67 379.55,359.47 380.75,358.30 C381.95,357.12 383.15,355.97 384.34,354.83 C385.54,353.69 386.74,352.58 387.94,351.47 C389.14,350.37 390.34,349.28 391.53,348.21 C392.73,347.13 393.93,346.07 395.13,345.02 C396.33,343.97 397.52,342.93 398.72,341.90 C399.92,340.88 401.12,339.86 402.32,338.86 C403.52,337.86 404.71,336.87 405.91,335.90 C407.11,334.93 408.31,333.97 409.51,333.03 C410.71,332.08 411.90,331.16 413.10,330.25 C414.30,329.34 415.50,328.45 416.70,327.59 C417.90,326.72 419.09,325.88 420.29,325.06 C421.49,324.24 422.69,323.45 423.89,322.68 C425.09,321.92 426.28,321.18 427.48,320.48 C428.68,319.77 429.88,319.10 431.08,318.46 C432.28,317.82 433.47,317.22 434.67,316.65 C435.87,316.09 437.07,315.56 438.27,315.07 C439.46,314.58 440.66,314.14 441.86,313.73 C443.06,313.33 444.26,312.97 445.46,312.66 C446.65,312.34 447.85,312.07 449.05,311.85 C450.25,311.62 451.45,311.45 452.65,311.32 C453.84,311.19 455.04,311.10 456.24,311.06 C457.44,311.03 458.64,311.04 459.84,311.09 C461.03,311.15 462.23,311.25 463.43,311.39 C464.63,311.53 465.83,311.72 467.03,311.95 C468.22,312.18 469.42,312.45 470.62,312.75 C471.82,313.05 473.02,313.39 474.22,313.75 C475.41,314.12 476.61,314.52 477.81,314.94 C479.01,315.35 480.21,315.80 481.41,316.25 C482.60,316.70 484.40,317.41 485.00,317.65" stroke="#4aaa4a" stroke-width="1.1" fill="none" stroke-dasharray="3.2,2.6"/>
<text x="451.70" y="369.70" font-size="6.98" fill="#333" stroke="#333" stroke-width="0.12" text-anchor="middle" textLength="67.24" lengthAdjust="spacingAndGlyphs">HR = 2.72 (2.24 − 3.30)</text>
<text x="451.50" y="377.60" font-size="6.9" fill="#333" stroke="#333" stroke-width="0.12" text-anchor="middle">Cox P &lt; 2.2×10<tspan font-size="4.4" dy="-3">−16</tspan></text>
<text x="7.00" y="462.70" font-size="11.4" fill="#111" font-weight="bold">D</text>
<text x="152.00" y="463.00" font-size="9.7" fill="#333" stroke="#333" stroke-width="0.12" text-anchor="middle" textLength="38.43" lengthAdjust="spacingAndGlyphs">Validation</text>
<line x1="49.20" y1="469.00" x2="49.20" y2="597.00" stroke="#222" stroke-width="1"/>
<line x1="48.70" y1="596.50" x2="254.00" y2="596.50" stroke="#222" stroke-width="1"/>
<line x1="45.20" y1="471.25" x2="49.20" y2="471.25" stroke="#222" stroke-width="0.9"/>
<text x="44.80" y="473.55" font-size="7.19" fill="#333" stroke="#333" stroke-width="0.12" text-anchor="end" textLength="11.01" lengthAdjust="spacingAndGlyphs">100</text>
<line x1="45.20" y1="496.25" x2="49.20" y2="496.25" stroke="#222" stroke-width="0.9"/>
<text x="44.80" y="498.55" font-size="7.19" fill="#333" stroke="#333" stroke-width="0.12" text-anchor="end" textLength="7.34" lengthAdjust="spacingAndGlyphs">80</text>
<line x1="45.20" y1="521.25" x2="49.20" y2="521.25" stroke="#222" stroke-width="0.9"/>
<text x="44.80" y="523.55" font-size="7.19" fill="#333" stroke="#333" stroke-width="0.12" text-anchor="end" textLength="7.34" lengthAdjust="spacingAndGlyphs">60</text>
<line x1="45.20" y1="546.25" x2="49.20" y2="546.25" stroke="#222" stroke-width="0.9"/>
<text x="44.80" y="548.55" font-size="7.19" fill="#333" stroke="#333" stroke-width="0.12" text-anchor="end" textLength="7.34" lengthAdjust="spacingAndGlyphs">40</text>
<line x1="45.20" y1="571.25" x2="49.20" y2="571.25" stroke="#222" stroke-width="0.9"/>
<text x="44.80" y="573.55" font-size="7.19" fill="#333" stroke="#333" stroke-width="0.12" text-anchor="end" textLength="7.34" lengthAdjust="spacingAndGlyphs">20</text>
<line x1="45.20" y1="596.25" x2="49.20" y2="596.25" stroke="#222" stroke-width="0.9"/>
<text x="44.80" y="598.55" font-size="7.19" fill="#333" stroke="#333" stroke-width="0.12" text-anchor="end" textLength="3.67" lengthAdjust="spacingAndGlyphs">0</text>
<line x1="60.00" y1="596.50" x2="60.00" y2="600.00" stroke="#222" stroke-width="0.9"/>
<line x1="97.20" y1="596.50" x2="97.20" y2="600.00" stroke="#222" stroke-width="0.9"/>
<line x1="134.40" y1="596.50" x2="134.40" y2="600.00" stroke="#222" stroke-width="0.9"/>
<line x1="171.60" y1="596.50" x2="171.60" y2="600.00" stroke="#222" stroke-width="0.9"/>
<line x1="208.80" y1="596.50" x2="208.80" y2="600.00" stroke="#222" stroke-width="0.9"/>
<line x1="246.00" y1="596.50" x2="246.00" y2="600.00" stroke="#222" stroke-width="0.9"/>
<text x="60.00" y="607.50" font-size="7.19" fill="#333" stroke="#333" stroke-width="0.12" text-anchor="middle" textLength="3.67" lengthAdjust="spacingAndGlyphs">0</text>
<text x="97.20" y="607.50" font-size="7.19" fill="#333" stroke="#333" stroke-width="0.12" text-anchor="middle" textLength="7.34" lengthAdjust="spacingAndGlyphs">12</text>
<text x="134.40" y="607.50" font-size="7.19" fill="#333" stroke="#333" stroke-width="0.12" text-anchor="middle" textLength="7.34" lengthAdjust="spacingAndGlyphs">24</text>
<text x="171.60" y="607.50" font-size="7.19" fill="#333" stroke="#333" stroke-width="0.12" text-anchor="middle" textLength="7.34" lengthAdjust="spacingAndGlyphs">36</text>
<text x="208.80" y="607.50" font-size="7.19" fill="#333" stroke="#333" stroke-width="0.12" text-anchor="middle" textLength="7.34" lengthAdjust="spacingAndGlyphs">48</text>
<text x="246.00" y="607.50" font-size="7.19" fill="#333" stroke="#333" stroke-width="0.12" text-anchor="middle" textLength="7.34" lengthAdjust="spacingAndGlyphs">60</text>
<text x="0.00" y="0.00" font-size="8.28" fill="#333" stroke="#333" stroke-width="0.12" text-anchor="middle" textLength="83" lengthAdjust="spacingAndGlyphs" transform="translate(28.6,533.6) rotate(-90)">Overall survival probability</text>
<line x1="60.50" y1="533.90" x2="222.20" y2="533.90" stroke="#333" stroke-width="1.1" stroke-dasharray="4.5,3"/>
<line x1="69.40" y1="533.90" x2="69.40" y2="596.20" stroke="#333" stroke-width="1.1" stroke-dasharray="4.5,3"/>
<line x1="117.50" y1="533.90" x2="117.50" y2="596.20" stroke="#333" stroke-width="1.1" stroke-dasharray="4.5,3"/>
<line x1="221.90" y1="533.90" x2="221.90" y2="596.20" stroke="#333" stroke-width="1.1" stroke-dasharray="4.5,3"/>
<path d="M60.40,471.60 L65.80,471.60 L65.80,475.60 L68.20,475.60 L68.20,480.60 L69.90,480.60 L69.90,485.80 L87.20,485.80 L87.20,491.30 L155.10,491.30 L155.10,500.30 L222.20,500.30 L222.20,548.30 L226.00,548.30" stroke="#3c9fd8" stroke-width="1.1" fill="none" stroke-linejoin="miter"/>
<path d="M60.40,471.60 H61.70 V476.20 H63.00 H63.20 V478.80 H63.60 V481.40 H63.80 H63.98 V485.04 H64.34 V488.68 H64.70 V492.32 H65.06 V495.96 H65.42 V499.60 H65.60 H66.00 V502.70 H66.40 L76.80,502.70 H78.10 V507.40 H79.40 H81.15 V510.30 H82.90 H85.05 V510.90 H87.20 H87.42 V513.90 H87.88 V516.90 H88.10 H90.25 V521.20 H92.40 H95.45 V522.10 H98.50 H99.35 V526.40 H100.20 H102.80 V530.80 H105.40 L117.50,530.80 H117.78 V534.27 H118.35 V537.73 H118.92 V541.20 H119.20 L131.30,541.20 H131.75 V544.25 H132.65 V547.30 H133.10 L138.80,547.30 L138.80,559.50 L171.00,559.50 L171.00,572.60 L188.90,572.60" stroke="#e4a03c" stroke-width="1.1" fill="none" stroke-linejoin="miter"/>
<path d="M60.40,471.60 H60.80 V475.40 H61.20 H61.29 V478.52 H61.47 V481.64 H61.65 V484.76 H61.83 V487.88 H62.01 V491.00 H62.10 H62.16 V493.81 H62.27 V496.62 H62.38 V499.44 H62.49 V502.25 H62.61 V505.06 H62.72 V507.88 H62.83 V510.69 H62.94 V513.50 H63.00 H63.42 V516.95 H64.28 V520.40 H64.70 H66.00 V523.80 H67.30 H67.62 V526.40 H68.28 V529.00 H68.92 V531.60 H69.58 V534.20 H69.90 H70.33 V537.30 H71.17 V540.40 H71.60 H72.70 V543.40 H74.90 V546.40 H76.00 H76.42 V549.00 H77.28 V551.60 H77.70 H77.81 V554.20 H78.04 V556.80 H78.26 V559.40 H78.49 V562.00 H78.60 L84.60,562.00 H84.82 V564.15 H85.28 V566.30 H85.50 L90.70,566.30 H91.10 V570.20 H91.50 L99.30,570.20 H100.20 V574.10 H101.10 H103.25 V575.00 H105.40 H106.25 V577.60 H107.10 L112.30,577.60 H112.75 V581.50 H113.20 L160.80,581.50 L160.80,589.50 L215.00,589.50 L215.00,592.70 L234.40,592.70 L234.40,596.00" stroke="#a3204f" stroke-width="1.1" fill="none" stroke-linejoin="miter"/>
<line x1="84.00" y1="484.30" x2="84.00" y2="487.30" stroke="#2a6f9e" stroke-width="0.8"/>
<line x1="110.00" y1="489.80" x2="110.00" y2="492.80" stroke="#2a6f9e" stroke-width="0.8"/>
<line x1="130.00" y1="489.80" x2="130.00" y2="492.80" stroke="#2a6f9e" stroke-width="0.8"/>
<line x1="175.00" y1="498.80" x2="175.00" y2="501.80" stroke="#2a6f9e" stroke-width="0.8"/>
<line x1="185.00" y1="498.80" x2="185.00" y2="501.80" stroke="#2a6f9e" stroke-width="0.8"/>
<line x1="190.00" y1="498.80" x2="190.00" y2="501.80" stroke="#2a6f9e" stroke-width="0.8"/>
<line x1="210.00" y1="498.80" x2="210.00" y2="501.80" stroke="#2a6f9e" stroke-width="0.8"/>
<line x1="215.00" y1="498.80" x2="215.00" y2="501.80" stroke="#2a6f9e" stroke-width="0.8"/>
<line x1="182.00" y1="571.10" x2="182.00" y2="574.10" stroke="#b07a2a" stroke-width="0.8"/>
<line x1="188.00" y1="571.10" x2="188.00" y2="574.10" stroke="#b07a2a" stroke-width="0.8"/>
<text x="86.90" y="476.60" font-size="7.19" fill="#333" stroke="#333" stroke-width="0.12" textLength="12.2" lengthAdjust="spacingAndGlyphs">LIRS</text>
<line x1="108.30" y1="474.30" x2="116.80" y2="474.30" stroke="#3c9fd8" stroke-width="1.1"/>
<line x1="112.55" y1="472.30" x2="112.55" y2="476.30" stroke="#3c9fd8" stroke-width="0.9"/>
<text x="120.30" y="476.60" font-size="7.19" fill="#333" stroke="#333" stroke-width="0.12" textLength="12.11" lengthAdjust="spacingAndGlyphs">Low</text>
<line x1="140.00" y1="474.30" x2="148.50" y2="474.30" stroke="#e4a03c" stroke-width="1.1"/>
<line x1="144.25" y1="472.30" x2="144.25" y2="476.30" stroke="#e4a03c" stroke-width="0.9"/>
<text x="149.70" y="476.60" font-size="7.19" fill="#333" stroke="#333" stroke-width="0.12" textLength="23.47" lengthAdjust="spacingAndGlyphs">Medium</text>
<line x1="180.00" y1="474.30" x2="188.50" y2="474.30" stroke="#a3204f" stroke-width="1.1"/>
<line x1="184.25" y1="472.30" x2="184.25" y2="476.30" stroke="#a3204f" stroke-width="0.9"/>
<text x="191.90" y="476.60" font-size="7.19" fill="#333" stroke="#333" stroke-width="0.12" textLength="13.57" lengthAdjust="spacingAndGlyphs">High</text>
<text x="191.30" y="492.30" font-size="6.4" fill="#333" stroke="#333" stroke-width="0.12"><tspan font-style="italic">P</tspan> = 6.20×10<tspan font-size="4.3" dy="-3">−9</tspan></text>
<text x="49.30" y="622.30" font-size="7.19" fill="#333" stroke="#333" stroke-width="0.12" textLength="100.51" lengthAdjust="spacingAndGlyphs">Number at risk (number censored)</text>
<line x1="48.80" y1="626.00" x2="48.80" y2="661.40" stroke="#222" stroke-width="1"/>
<line x1="48.30" y1="661.20" x2="255.00" y2="661.20" stroke="#222" stroke-width="1"/>
<line x1="45.00" y1="633.25" x2="48.80" y2="633.25" stroke="#222" stroke-width="0.9"/>
<text x="43.50" y="635.55" font-size="7.19" fill="#4aaad6" stroke="#4aaad6" stroke-width="0.12" text-anchor="end" textLength="12.11" lengthAdjust="spacingAndGlyphs">Low</text>
<text x="60.50" y="635.55" font-size="7.19" fill="#333" stroke="#333" stroke-width="0.12" text-anchor="middle" textLength="17.24" lengthAdjust="spacingAndGlyphs">28 (0)</text>
<text x="97.70" y="635.55" font-size="7.19" fill="#333" stroke="#333" stroke-width="0.12" text-anchor="middle" textLength="17.24" lengthAdjust="spacingAndGlyphs">19 (5)</text>
<text x="134.90" y="635.55" font-size="7.19" fill="#333" stroke="#333" stroke-width="0.12" text-anchor="middle" textLength="20.91" lengthAdjust="spacingAndGlyphs">14 (10)</text>
<text x="172.10" y="635.55" font-size="7.19" fill="#333" stroke="#333" stroke-width="0.12" text-anchor="middle" textLength="17.24" lengthAdjust="spacingAndGlyphs">9 (14)</text>
<text x="209.30" y="635.55" font-size="7.19" fill="#333" stroke="#333" stroke-width="0.12" text-anchor="middle" textLength="17.24" lengthAdjust="spacingAndGlyphs">4 (19)</text>
<text x="246.50" y="635.55" font-size="7.19" fill="#333" stroke="#333" stroke-width="0.12" text-anchor="middle" textLength="17.24" lengthAdjust="spacingAndGlyphs">0 (22)</text>
<line x1="45.00" y1="643.25" x2="48.80" y2="643.25" stroke="#222" stroke-width="0.9"/>
<text x="43.50" y="645.55" font-size="7.19" fill="#f2a23a" stroke="#f2a23a" stroke-width="0.12" text-anchor="end" textLength="23.47" lengthAdjust="spacingAndGlyphs">Medium</text>
<text x="60.50" y="645.55" font-size="7.19" fill="#333" stroke="#333" stroke-width="0.12" text-anchor="middle" textLength="17.24" lengthAdjust="spacingAndGlyphs">37 (0)</text>
<text x="97.70" y="645.55" font-size="7.19" fill="#333" stroke="#333" stroke-width="0.12" text-anchor="middle" textLength="17.24" lengthAdjust="spacingAndGlyphs">17 (6)</text>
<text x="134.90" y="645.55" font-size="7.19" fill="#333" stroke="#333" stroke-width="0.12" text-anchor="middle" textLength="17.24" lengthAdjust="spacingAndGlyphs">8 (10)</text>
<text x="172.10" y="645.55" font-size="7.19" fill="#333" stroke="#333" stroke-width="0.12" text-anchor="middle" textLength="17.24" lengthAdjust="spacingAndGlyphs">2 (13)</text>
<text x="209.30" y="645.55" font-size="7.19" fill="#333" stroke="#333" stroke-width="0.12" text-anchor="middle" textLength="17.24" lengthAdjust="spacingAndGlyphs">0 (15)</text>
<text x="246.50" y="645.55" font-size="7.19" fill="#333" stroke="#333" stroke-width="0.12" text-anchor="middle" textLength="17.24" lengthAdjust="spacingAndGlyphs">0 (15)</text>
<line x1="45.00" y1="653.75" x2="48.80" y2="653.75" stroke="#222" stroke-width="0.9"/>
<text x="43.50" y="656.05" font-size="7.19" fill="#c0285a" stroke="#c0285a" stroke-width="0.12" text-anchor="end" textLength="13.57" lengthAdjust="spacingAndGlyphs">High</text>
<text x="60.50" y="656.05" font-size="7.19" fill="#333" stroke="#333" stroke-width="0.12" text-anchor="middle" textLength="17.24" lengthAdjust="spacingAndGlyphs">44 (0)</text>
<text x="97.70" y="656.05" font-size="7.19" fill="#333" stroke="#333" stroke-width="0.12" text-anchor="middle" textLength="13.57" lengthAdjust="spacingAndGlyphs">7 (5)</text>
<text x="134.90" y="656.05" font-size="7.19" fill="#333" stroke="#333" stroke-width="0.12" text-anchor="middle" textLength="13.57" lengthAdjust="spacingAndGlyphs">4 (5)</text>
<text x="172.10" y="656.05" font-size="7.19" fill="#333" stroke="#333" stroke-width="0.12" text-anchor="middle" textLength="13.57" lengthAdjust="spacingAndGlyphs">2 (5)</text>
<text x="209.30" y="656.05" font-size="7.19" fill="#333" stroke="#333" stroke-width="0.12" text-anchor="middle" textLength="13.57" lengthAdjust="spacingAndGlyphs">2 (5)</text>
<text x="246.50" y="656.05" font-size="7.19" fill="#333" stroke="#333" stroke-width="0.12" text-anchor="middle" textLength="13.57" lengthAdjust="spacingAndGlyphs">0 (5)</text>
<line x1="62.00" y1="661.20" x2="62.00" y2="664.60" stroke="#222" stroke-width="0.9"/>
<text x="62.00" y="672.80" font-size="7.19" fill="#333" stroke="#333" stroke-width="0.12" text-anchor="middle" textLength="3.67" lengthAdjust="spacingAndGlyphs">0</text>
<line x1="99.20" y1="661.20" x2="99.20" y2="664.60" stroke="#222" stroke-width="0.9"/>
<text x="99.20" y="672.80" font-size="7.19" fill="#333" stroke="#333" stroke-width="0.12" text-anchor="middle" textLength="7.34" lengthAdjust="spacingAndGlyphs">12</text>
<line x1="136.40" y1="661.20" x2="136.40" y2="664.60" stroke="#222" stroke-width="0.9"/>
<text x="136.40" y="672.80" font-size="7.19" fill="#333" stroke="#333" stroke-width="0.12" text-anchor="middle" textLength="7.34" lengthAdjust="spacingAndGlyphs">24</text>
<line x1="173.60" y1="661.20" x2="173.60" y2="664.60" stroke="#222" stroke-width="0.9"/>
<text x="173.60" y="672.80" font-size="7.19" fill="#333" stroke="#333" stroke-width="0.12" text-anchor="middle" textLength="7.34" lengthAdjust="spacingAndGlyphs">36</text>
<line x1="210.80" y1="661.20" x2="210.80" y2="664.60" stroke="#222" stroke-width="0.9"/>
<text x="210.80" y="672.80" font-size="7.19" fill="#333" stroke="#333" stroke-width="0.12" text-anchor="middle" textLength="7.34" lengthAdjust="spacingAndGlyphs">48</text>
<line x1="248.00" y1="661.20" x2="248.00" y2="664.60" stroke="#222" stroke-width="0.9"/>
<text x="248.00" y="672.80" font-size="7.19" fill="#333" stroke="#333" stroke-width="0.12" text-anchor="middle" textLength="7.34" lengthAdjust="spacingAndGlyphs">60</text>
<text x="155.60" y="686.30" font-size="8.07" fill="#333" stroke="#333" stroke-width="0.12" text-anchor="middle" textLength="69" lengthAdjust="spacingAndGlyphs">Survival time (months)</text>
<text x="271.00" y="462.70" font-size="11.4" fill="#111" font-weight="bold">E</text>
<text x="387.60" y="463.00" font-size="9.7" fill="#333" stroke="#333" stroke-width="0.12" text-anchor="middle" textLength="38.43" lengthAdjust="spacingAndGlyphs">Validation</text>
<line x1="280.50" y1="471.75" x2="327.50" y2="471.75" stroke="#333" stroke-width="1.1"/>
<line x1="280.50" y1="486.25" x2="327.50" y2="486.25" stroke="#333" stroke-width="1.1"/>
<line x1="328.75" y1="486.25" x2="422.50" y2="486.25" stroke="#333" stroke-width="1.1"/>
<line x1="429.50" y1="471.75" x2="513.25" y2="471.75" stroke="#333" stroke-width="1.1"/>
<line x1="429.50" y1="486.25" x2="513.25" y2="486.25" stroke="#333" stroke-width="1.1"/>
<text x="303.75" y="481.00" font-size="6.87" fill="#333" stroke="#333" stroke-width="0.12" text-anchor="middle" textLength="27.32" lengthAdjust="spacingAndGlyphs">Subgroup</text>
<text x="436.25" y="481.00" font-size="6.87" fill="#333" stroke="#333" stroke-width="0.12" text-anchor="middle" textLength="9.1" lengthAdjust="spacingAndGlyphs">HR</text>
<text x="471.25" y="481.00" font-size="6.87" fill="#333" stroke="#333" stroke-width="0.12" text-anchor="middle" textLength="6.3" lengthAdjust="spacingAndGlyphs">CI</text>
<text x="503.75" y="481.00" font-size="6.87" fill="#333" stroke="#333" stroke-width="0.12" text-anchor="middle" textLength="4.2" lengthAdjust="spacingAndGlyphs">P</text>
<line x1="342.50" y1="470.50" x2="342.50" y2="661.00" stroke="#222" stroke-width="1.1" stroke-dasharray="7,3"/>
<text x="303.75" y="499.70" font-size="6.87" fill="#333" stroke="#333" stroke-width="0.12" text-anchor="middle" textLength="36.77" lengthAdjust="spacingAndGlyphs">Total bilirubin</text>
<line x1="328.98" y1="497.50" x2="354.34" y2="497.50" stroke="#3a3a3a" stroke-width="1.3"/>
<line x1="328.98" y1="495.30" x2="328.98" y2="499.70" stroke="#333" stroke-width="1.2"/>
<line x1="354.34" y1="495.30" x2="354.34" y2="499.70" stroke="#333" stroke-width="1.2"/>
<path d="M339.04,497.50 L341.64,494.90 L344.24,497.50 L341.64,500.10 Z" fill="#c8186a" stroke="#c8186a" stroke-width="0.5" stroke-linejoin="round"/>
<text x="436.25" y="499.70" font-size="6.87" fill="#333" stroke="#333" stroke-width="0.12" text-anchor="middle" textLength="12.26" lengthAdjust="spacingAndGlyphs">0.97</text>
<text x="471.25" y="499.70" font-size="6.87" fill="#333" stroke="#333" stroke-width="0.12" text-anchor="middle" textLength="32.4" lengthAdjust="spacingAndGlyphs">(0.62−1.52)</text>
<text x="503.75" y="499.70" font-size="6.87" fill="#333" stroke="#333" stroke-width="0.12" text-anchor="middle" textLength="12.26" lengthAdjust="spacingAndGlyphs">.897</text>
<text x="303.75" y="515.20" font-size="6.87" fill="#333" stroke="#333" stroke-width="0.12" text-anchor="middle" textLength="24.16" lengthAdjust="spacingAndGlyphs">Platelets</text>
<path d="M339.90,513.00 L342.50,510.40 L345.10,513.00 L342.50,515.60 Z" fill="#c8186a" stroke="#c8186a" stroke-width="0.5" stroke-linejoin="round"/>
<text x="436.25" y="515.20" font-size="6.87" fill="#333" stroke="#333" stroke-width="0.12" text-anchor="middle" textLength="12.26" lengthAdjust="spacingAndGlyphs">1.00</text>
<text x="471.25" y="515.20" font-size="6.87" fill="#333" stroke="#333" stroke-width="0.12" text-anchor="middle" textLength="32.4" lengthAdjust="spacingAndGlyphs">(1.00−1.00)</text>
<text x="503.75" y="515.20" font-size="6.87" fill="#333" stroke="#333" stroke-width="0.12" text-anchor="middle" textLength="12.26" lengthAdjust="spacingAndGlyphs">.402</text>
<text x="303.75" y="530.95" font-size="6.87" fill="#333" stroke="#333" stroke-width="0.12" text-anchor="middle" textLength="11.21" lengthAdjust="spacingAndGlyphs">Age</text>
<line x1="336.19" y1="528.75" x2="351.19" y2="528.75" stroke="#3a3a3a" stroke-width="1.3"/>
<line x1="336.19" y1="526.55" x2="336.19" y2="530.95" stroke="#333" stroke-width="1.2"/>
<line x1="351.19" y1="526.55" x2="351.19" y2="530.95" stroke="#333" stroke-width="1.2"/>
<path d="M341.01,528.75 L343.61,526.15 L346.21,528.75 L343.61,531.35 Z" fill="#c8186a" stroke="#c8186a" stroke-width="0.5" stroke-linejoin="round"/>
<text x="436.25" y="530.95" font-size="6.87" fill="#333" stroke="#333" stroke-width="0.12" text-anchor="middle" textLength="12.26" lengthAdjust="spacingAndGlyphs">1.04</text>
<text x="471.25" y="530.95" font-size="6.87" fill="#333" stroke="#333" stroke-width="0.12" text-anchor="middle" textLength="32.4" lengthAdjust="spacingAndGlyphs">(0.80−1.36)</text>
<text x="503.75" y="530.95" font-size="6.87" fill="#333" stroke="#333" stroke-width="0.12" text-anchor="middle" textLength="12.26" lengthAdjust="spacingAndGlyphs">.756</text>
<text x="303.75" y="546.70" font-size="6.87" fill="#333" stroke="#333" stroke-width="0.12" text-anchor="middle" textLength="28.72" lengthAdjust="spacingAndGlyphs">Creatinine</text>
<line x1="334.74" y1="544.50" x2="371.72" y2="544.50" stroke="#3a3a3a" stroke-width="1.3"/>
<line x1="334.74" y1="542.30" x2="334.74" y2="546.70" stroke="#333" stroke-width="1.2"/>
<line x1="371.72" y1="542.30" x2="371.72" y2="546.70" stroke="#333" stroke-width="1.2"/>
<path d="M350.60,544.50 L353.20,541.90 L355.80,544.50 L353.20,547.10 Z" fill="#c8186a" stroke="#c8186a" stroke-width="0.5" stroke-linejoin="round"/>
<text x="436.25" y="546.70" font-size="6.87" fill="#333" stroke="#333" stroke-width="0.12" text-anchor="middle" textLength="12.26" lengthAdjust="spacingAndGlyphs">1.46</text>
<text x="471.25" y="546.70" font-size="6.87" fill="#333" stroke="#333" stroke-width="0.12" text-anchor="middle" textLength="32.4" lengthAdjust="spacingAndGlyphs">(0.76−2.81)</text>
<text x="503.75" y="546.70" font-size="6.87" fill="#333" stroke="#333" stroke-width="0.12" text-anchor="middle" textLength="12.26" lengthAdjust="spacingAndGlyphs">.259</text>
<text x="303.75" y="558.50" font-size="6.87" fill="#333" stroke="#333" stroke-width="0.12" text-anchor="middle" textLength="12.26" lengthAdjust="spacingAndGlyphs">ELN</text>
<text x="303.75" y="566.50" font-size="6.87" fill="#333" stroke="#333" stroke-width="0.12" text-anchor="middle" textLength="28.02" lengthAdjust="spacingAndGlyphs">Favorable</text>
<path d="M339.90,560.30 L342.50,557.70 L345.10,560.30 L342.50,562.90 Z" fill="#c8186a" stroke="#c8186a" stroke-width="0.5" stroke-linejoin="round"/>
<text x="471.25" y="562.50" font-size="6.87" fill="#333" stroke="#333" stroke-width="0.12" text-anchor="middle" textLength="29.07" lengthAdjust="spacingAndGlyphs">Reference</text>
<text x="303.75" y="581.50" font-size="6.87" fill="#333" stroke="#333" stroke-width="0.12" text-anchor="middle" textLength="12.26" lengthAdjust="spacingAndGlyphs">ELN</text>
<text x="303.75" y="589.50" font-size="6.87" fill="#333" stroke="#333" stroke-width="0.12" text-anchor="middle" textLength="35.02" lengthAdjust="spacingAndGlyphs">Intermediate</text>
<line x1="332.82" y1="583.30" x2="398.87" y2="583.30" stroke="#3a3a3a" stroke-width="1.3"/>
<line x1="332.82" y1="581.10" x2="332.82" y2="585.50" stroke="#333" stroke-width="1.2"/>
<line x1="398.87" y1="581.10" x2="398.87" y2="585.50" stroke="#333" stroke-width="1.2"/>
<path d="M363.21,583.30 L365.81,580.70 L368.41,583.30 L365.81,585.90 Z" fill="#c8186a" stroke="#c8186a" stroke-width="0.5" stroke-linejoin="round"/>
<text x="436.25" y="585.50" font-size="6.87" fill="#333" stroke="#333" stroke-width="0.12" text-anchor="middle" textLength="12.26" lengthAdjust="spacingAndGlyphs">2.28</text>
<text x="471.25" y="585.50" font-size="6.87" fill="#333" stroke="#333" stroke-width="0.12" text-anchor="middle" textLength="32.4" lengthAdjust="spacingAndGlyphs">(0.71−7.34)</text>
<text x="503.75" y="585.50" font-size="6.87" fill="#333" stroke="#333" stroke-width="0.12" text-anchor="middle" textLength="12.26" lengthAdjust="spacingAndGlyphs">.168</text>
<text x="303.75" y="604.20" font-size="6.87" fill="#333" stroke="#333" stroke-width="0.12" text-anchor="middle" textLength="36.77" lengthAdjust="spacingAndGlyphs">ELN Adverse</text>
<line x1="352.42" y1="602.00" x2="400.58" y2="602.00" stroke="#3a3a3a" stroke-width="1.3"/>
<line x1="352.42" y1="599.80" x2="352.42" y2="604.20" stroke="#333" stroke-width="1.2"/>
<line x1="400.58" y1="599.80" x2="400.58" y2="604.20" stroke="#333" stroke-width="1.2"/>
<path d="M373.92,602.00 L376.52,599.40 L379.12,602.00 L376.52,604.60 Z" fill="#c8186a" stroke="#c8186a" stroke-width="0.5" stroke-linejoin="round"/>
<text x="436.25" y="604.20" font-size="6.87" fill="#333" stroke="#333" stroke-width="0.12" text-anchor="middle" textLength="12.26" lengthAdjust="spacingAndGlyphs">3.33</text>
<text x="471.25" y="604.20" font-size="6.87" fill="#333" stroke="#333" stroke-width="0.12" text-anchor="middle" textLength="32.4" lengthAdjust="spacingAndGlyphs">(1.42−7.80)</text>
<text x="503.75" y="604.20" font-size="6.87" fill="#333" stroke="#333" stroke-width="0.12" text-anchor="middle" textLength="12.26" lengthAdjust="spacingAndGlyphs">.006</text>
<text x="303.75" y="622.20" font-size="6.87" fill="#333" stroke="#333" stroke-width="0.12" text-anchor="middle" textLength="27.31" lengthAdjust="spacingAndGlyphs">LIRS Low</text>
<path d="M339.90,620.00 L342.50,617.40 L345.10,620.00 L342.50,622.60 Z" fill="#c8186a" stroke="#c8186a" stroke-width="0.5" stroke-linejoin="round"/>
<text x="471.25" y="622.20" font-size="6.87" fill="#333" stroke="#333" stroke-width="0.12" text-anchor="middle" textLength="29.07" lengthAdjust="spacingAndGlyphs">Reference</text>
<text x="303.75" y="637.95" font-size="6.87" fill="#333" stroke="#333" stroke-width="0.12" text-anchor="middle" textLength="38.16" lengthAdjust="spacingAndGlyphs">LIRS medium</text>
<line x1="339.20" y1="635.75" x2="396.91" y2="635.75" stroke="#3a3a3a" stroke-width="1.3"/>
<line x1="339.20" y1="633.55" x2="339.20" y2="637.95" stroke="#333" stroke-width="1.2"/>
<line x1="396.91" y1="633.55" x2="396.91" y2="637.95" stroke="#333" stroke-width="1.2"/>
<path d="M365.47,635.75 L368.07,633.15 L370.67,635.75 L368.07,638.35 Z" fill="#c8186a" stroke="#c8186a" stroke-width="0.5" stroke-linejoin="round"/>
<text x="436.25" y="637.95" font-size="6.87" fill="#333" stroke="#333" stroke-width="0.12" text-anchor="middle" textLength="12.26" lengthAdjust="spacingAndGlyphs">2.47</text>
<text x="471.25" y="637.95" font-size="6.87" fill="#333" stroke="#333" stroke-width="0.12" text-anchor="middle" textLength="32.4" lengthAdjust="spacingAndGlyphs">(0.89−6.85)</text>
<text x="503.75" y="637.95" font-size="6.87" fill="#333" stroke="#333" stroke-width="0.12" text-anchor="middle" textLength="12.26" lengthAdjust="spacingAndGlyphs">.082</text>
<text x="303.75" y="652.70" font-size="6.87" fill="#333" stroke="#333" stroke-width="0.12" text-anchor="middle" textLength="28.71" lengthAdjust="spacingAndGlyphs">LIRS High</text>
<line x1="365.56" y1="650.50" x2="421.72" y2="650.50" stroke="#3a3a3a" stroke-width="1.3"/>
<line x1="365.56" y1="648.30" x2="365.56" y2="652.70" stroke="#333" stroke-width="1.2"/>
<line x1="421.72" y1="648.30" x2="421.72" y2="652.70" stroke="#333" stroke-width="1.2"/>
<path d="M391.03,650.50 L393.63,647.90 L396.23,650.50 L393.63,653.10 Z" fill="#c8186a" stroke="#c8186a" stroke-width="0.5" stroke-linejoin="round"/>
<text x="436.25" y="652.70" font-size="6.87" fill="#333" stroke="#333" stroke-width="0.12" text-anchor="middle" textLength="12.26" lengthAdjust="spacingAndGlyphs">6.10</text>
<text x="471.25" y="652.70" font-size="6.87" fill="#333" stroke="#333" stroke-width="0.12" text-anchor="middle" textLength="35.9" lengthAdjust="spacingAndGlyphs">(2.26−16.47)</text>
<text x="503.75" y="652.70" font-size="6.87" fill="#333" stroke="#333" stroke-width="0.12" text-anchor="middle" textLength="17.69" lengthAdjust="spacingAndGlyphs">&lt; .001</text>
<line x1="329.50" y1="661.25" x2="422.50" y2="661.25" stroke="#222" stroke-width="1.4"/>
<line x1="334.37" y1="661.25" x2="334.37" y2="664.00" stroke="#222" stroke-width="0.9"/>
<text x="0.00" y="0.00" font-size="6.98" fill="#333" stroke="#333" stroke-width="0.12" text-anchor="end" textLength="12.46" lengthAdjust="spacingAndGlyphs" transform="translate(336.27,667.3) rotate(-90)">0.75</text>
<line x1="342.50" y1="661.25" x2="342.50" y2="664.00" stroke="#222" stroke-width="0.9"/>
<text x="0.00" y="0.00" font-size="6.98" fill="#333" stroke="#333" stroke-width="0.12" text-anchor="end" textLength="8.9" lengthAdjust="spacingAndGlyphs" transform="translate(344.40,667.3) rotate(-90)">1.0</text>
<line x1="353.97" y1="661.25" x2="353.97" y2="664.00" stroke="#222" stroke-width="0.9"/>
<text x="0.00" y="0.00" font-size="6.98" fill="#333" stroke="#333" stroke-width="0.12" text-anchor="end" textLength="8.9" lengthAdjust="spacingAndGlyphs" transform="translate(355.87,667.3) rotate(-90)">1.5</text>
<line x1="362.10" y1="661.25" x2="362.10" y2="664.00" stroke="#222" stroke-width="0.9"/>
<text x="0.00" y="0.00" font-size="6.98" fill="#333" stroke="#333" stroke-width="0.12" text-anchor="end" textLength="8.9" lengthAdjust="spacingAndGlyphs" transform="translate(364.00,667.3) rotate(-90)">2.0</text>
<line x1="373.57" y1="661.25" x2="373.57" y2="664.00" stroke="#222" stroke-width="0.9"/>
<text x="0.00" y="0.00" font-size="6.98" fill="#333" stroke="#333" stroke-width="0.12" text-anchor="end" textLength="8.9" lengthAdjust="spacingAndGlyphs" transform="translate(375.47,667.3) rotate(-90)">3.0</text>
<line x1="381.70" y1="661.25" x2="381.70" y2="664.00" stroke="#222" stroke-width="0.9"/>
<text x="0.00" y="0.00" font-size="6.98" fill="#333" stroke="#333" stroke-width="0.12" text-anchor="end" textLength="8.9" lengthAdjust="spacingAndGlyphs" transform="translate(383.60,667.3) rotate(-90)">4.0</text>
<rect x="0.5" y="0.5" width="519" height="693.6" fill="none" stroke="#4a4a4a" stroke-width="1.2"/>
</svg></body></html>
